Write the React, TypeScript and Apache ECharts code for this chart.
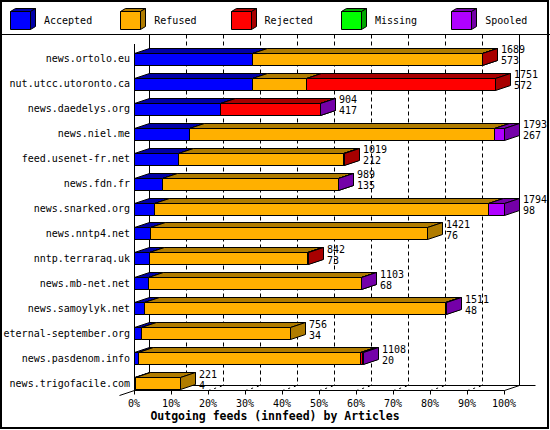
import React, { useEffect, useRef } from "react";
import * as echarts from "echarts";

const categories = [
  "news.ortolo.eu",
  "nut.utcc.utoronto.ca",
  "news.daedelys.org",
  "news.niel.me",
  "feed.usenet-fr.net",
  "news.fdn.fr",
  "news.snarked.org",
  "news.nntp4.net",
  "nntp.terraraq.uk",
  "news.mb-net.net",
  "news.samoylyk.net",
  "eternal-september.org",
  "news.pasdenom.info",
  "news.trigofacile.com",
];
const offered = [1689, 1751, 904, 1793, 1019, 989, 1794, 1421, 842, 1103, 1511, 756, 1108, 221];
const accepted = [573, 572, 417, 267, 212, 135, 98, 76, 73, 68, 48, 34, 20, 4];
const refused = [1112, 260, 0, 1478, 800, 852, 1617, 1345, 767, 1033, 1461, 722, 1077, 217];
const rejected = [4, 919, 485, 0, 7, 0, 0, 0, 2, 0, 0, 0, 8, 0];
const missing = [0, 0, 0, 0, 0, 0, 0, 0, 0, 0, 0, 0, 0, 0];
const spooled = [0, 0, 2, 48, 0, 2, 79, 0, 0, 2, 2, 0, 3, 0];
const seriesNames = ["Accepted", "Refused", "Rejected", "Missing", "Spooled"];
const xTicks = [0, 10, 20, 30, 40, 50, 60, 70, 80, 90, 100];
const axisTitle = "Outgoing feeds (innfeed) by Articles";

const frontColors = ["#0000FF", "#FFB000", "#FF0000", "#00FF00", "#B000FF"];
const darkColors = ["#0000A8", "#B07C00", "#A80000", "#00A800", "#7400A8"];

const MONO = '"DejaVu Sans Mono", "Liberation Mono", monospace';
const DX = 15;
const DY = -5;

const snap = (v: number) => Math.round(v) + 0.5;

export default function App() {
  const ref = useRef<HTMLDivElement>(null);

  useEffect(() => {
    if (!ref.current) return;
    const chart = echarts.init(ref.current, undefined, { renderer: "svg" });
    const maxTotal = Math.max(...offered);
    const segData = [accepted, refused, rejected, missing, spooled];

    const legendGraphics: any[] = [];
    seriesNames.forEach((name, k) => {
      const x0 = 10 + k * 110.3;
      const y0 = 11;
      const w = 20;
      const h = 18;
      const fx = Math.round(x0) + 0.5;
      legendGraphics.push({
        type: "polygon",
        shape: { points: [[fx, y0 + 0.5], [fx + 5, y0 - 2.5], [fx + w + 5, y0 - 2.5], [fx + w, y0 + 0.5]] },
        style: { fill: darkColors[k], stroke: "#000", lineWidth: 1 },
      });
      legendGraphics.push({
        type: "polygon",
        shape: { points: [[fx + w, y0 + 0.5], [fx + w + 5, y0 - 2.5], [fx + w + 5, y0 + h - 2.5], [fx + w, y0 + h + 0.5]] },
        style: { fill: darkColors[k], stroke: "#000", lineWidth: 1 },
      });
      legendGraphics.push({
        type: "rect",
        shape: { x: fx, y: y0 + 0.5, width: w, height: h },
        style: { fill: frontColors[k], stroke: "#000", lineWidth: 1 },
      });
      legendGraphics.push({
        type: "text",
        x: x0 + 34,
        y: 20,
        style: { text: name, fontSize: 10, fontFamily: MONO, fill: "#000", align: "left", verticalAlign: "middle" },
      });
    });

    const option: any = {
      animation: false,
      backgroundColor: "#fff",
      grid: { left: 134, right: 46, top: 46.5, bottom: 34.5, containLabel: false },
      xAxis: {
        type: "value",
        min: 0,
        max: 100,
        interval: 10,
        axisLine: { show: false },
        axisTick: { show: false },
        splitLine: { show: false },
        axisLabel: {
          formatter: (v: number) => (xTicks.includes(v) ? v + "%" : ""),
          fontSize: 10,
          fontFamily: MONO,
          color: "#000",
          margin: 3,
        },
      },
      yAxis: {
        type: "category",
        data: categories,
        inverse: true,
        axisLine: { show: false },
        axisTick: { show: false },
        splitLine: { show: false },
        axisLabel: { fontSize: 10, fontFamily: MONO, color: "#000", margin: 4 },
      },
      graphic: [
        { type: "rect", shape: { x: 1, y: 1, width: 547, height: 427 }, style: { fill: "none", stroke: "#000", lineWidth: 2 }, z: 100 },
        { type: "line", shape: { x1: 0, y1: 34.5, x2: 550, y2: 34.5 }, style: { stroke: "#000", lineWidth: 1 } },
        ...legendGraphics,
        {
          type: "text",
          x: 275,
          y: 416,
          style: { text: axisTitle, fontSize: 11.5, fontWeight: "bold", fontFamily: MONO, fill: "#000", align: "center", verticalAlign: "middle" },
        },
      ],
      series: [
        {
          type: "custom",
          name: "frame",
          clip: false,
          z: 1,
          data: [[0, 0]],
          encode: { x: 0, y: 1 },
          renderItem: (params: any, api: any) => {
            const cs = params.coordSys;
            const gBot = cs.y + cs.height;
            const fBot = Math.round(gBot - 5.5) + 0.5;
            const bBot = fBot + DY;
            const bTop = 34.5;
            const fx0 = snap(api.coord([0, 0])[0]);
            const fx1 = snap(api.coord([100, 0])[0]);
            const ln = (x1: number, y1: number, x2: number, y2: number, dash?: number[]) => ({
              type: "line",
              shape: { x1, y1, x2, y2 },
              style: { stroke: "#000", lineWidth: 1, lineDash: dash },
            });
            const ch: any[] = [];
            xTicks.forEach((t) => {
              const x = snap(api.coord([t, 0])[0]);
              if (t > 0 && t < 100) {
                ch.push(ln(x + DX, bTop, x + DX, bBot, [4, 3]));
                ch.push(ln(x, fBot, x + DX, bBot, [2, 4]));
              }
              ch.push(ln(x, fBot, x, fBot + 4));
            });
            ch.push(ln(fx0 + DX, bTop, fx0 + DX, bBot));
            ch.push(ln(fx1 + DX, bTop, fx1 + DX, bBot));
            ch.push(ln(fx0 + DX, bBot, fx1 + DX + 16, bBot));
            ch.push(ln(fx0, fBot, fx1, fBot));
            ch.push(ln(fx0 - DX, fBot - DY, fx0 + DX, bBot));
            ch.push(ln(fx1, fBot, fx1 + DX, bBot));
            ch.push(ln(fx0, bTop + 9.5, fx0, fBot));
            return { type: "group", children: ch };
          },
        },
        {
          type: "custom",
          name: "bars",
          clip: false,
          z: 2,
          data: categories.map((_, i) => [0, i]),
          encode: { x: 0, y: 1 },
          renderItem: (params: any, api: any) => {
            const i = params.dataIndex;
            const cy = api.coord([0, i])[1];
            const band = api.size([0, 1])[1];
            const h = band * 0.48;
            const y0 = Math.round(cy - h / 2) + 0.5;
            const y1 = Math.round(cy + h / 2) + 0.5;
            const children: any[] = [];
            let cum = 0;
            segData.forEach((arr, k) => {
              const v = arr[i];
              if (v <= 0) return;
              const xa = snap(api.coord([(cum / maxTotal) * 100, i])[0]);
              cum += v;
              const xb = snap(api.coord([(cum / maxTotal) * 100, i])[0]);
              const st = { stroke: "#000", lineWidth: 1 };
              children.push({
                type: "polygon",
                shape: { points: [[xa, y0], [xa + DX, y0 + DY], [xb + DX, y0 + DY], [xb, y0]] },
                style: { fill: darkColors[k], ...st },
              });
              children.push({
                type: "polygon",
                shape: { points: [[xa, y0], [xb, y0], [xb, y1], [xa, y1]] },
                style: { fill: frontColors[k], ...st },
              });
              children.push({
                type: "polygon",
                shape: { points: [[xb, y0], [xb + DX, y0 + DY], [xb + DX, y1 + DY], [xb, y1]] },
                style: { fill: darkColors[k], ...st },
              });
            });
            const xEnd = api.coord([(offered[i] / maxTotal) * 100, i])[0];
            children.push({
              type: "text",
              x: Math.round(xEnd) + DX + 4,
              y: cy - 3.5,
              style: {
                text: offered[i] + "\n" + accepted[i],
                fontSize: 10,
                fontFamily: MONO,
                fill: "#000",
                align: "left",
                verticalAlign: "middle",
                lineHeight: 11,
              },
            });
            return { type: "group", children };
          },
        },
      ],
    };
    chart.setOption(option);
    return () => chart.dispose();
  }, []);

  return (
    <div
      ref={ref}
      style={{ position: "fixed", left: 0, top: 0, width: 550, height: 430, background: "#fff" }}
    />
  );
}
